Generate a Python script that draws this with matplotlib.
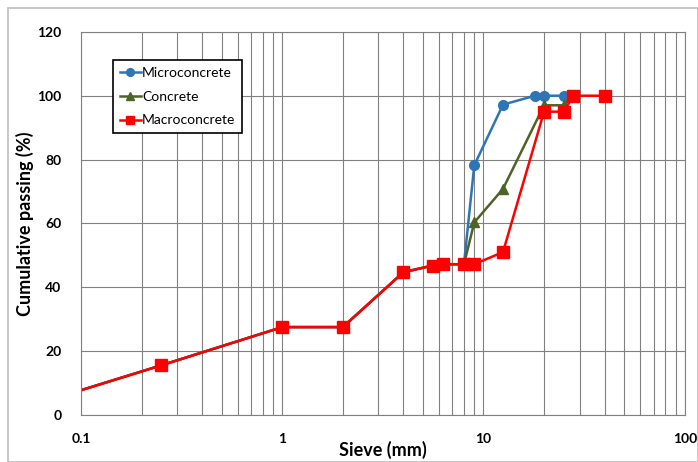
import matplotlib.pyplot as plt
from matplotlib.patches import Rectangle
from matplotlib.ticker import FixedLocator, LogLocator, NullFormatter

plt.rcParams['font.family'] = ['Lato', 'DejaVu Sans']

# Sieve sizes (mm) and cumulative passing (%)
macro_x = [0.063, 0.25, 1, 2, 4, 5.6, 6.3, 8, 9, 12.5, 20, 25, 28, 40]
macro_y = [3.8, 15.5, 27.5, 27.5, 44.7, 46.8, 47.2, 47.2, 47.2, 51, 95, 95, 100, 100]

concrete_x = [0.063, 0.25, 1, 2, 4, 5.6, 6.3, 8, 9, 12.5, 20, 25, 28]
concrete_y = [3.8, 15.5, 27.5, 27.5, 44.7, 46.8, 47.2, 47.2, 60.3, 70.8, 97, 97, 100]

micro_x = [0.063, 0.25, 1, 2, 4, 5.6, 6.3, 8, 9, 12.5, 18, 20, 25]
micro_y = [3.8, 15.5, 27.5, 27.5, 44.7, 46.8, 47.2, 47.2, 78.2, 97.2, 100, 100, 100]

fig = plt.figure(figsize=(6.98, 4.62), dpi=100)
ax = fig.add_axes([0.116, 0.102, 0.865, 0.829])

ax.plot(micro_x, micro_y, color='#2E75B6', marker='o', markersize=7, lw=1.8, label='Microconcrete')
ax.plot(concrete_x, concrete_y, color='#4F6228', marker='^', markersize=7, lw=1.8, label='Concrete')
ax.plot(macro_x, macro_y, color='#FF0000', marker='s', markersize=8, lw=1.8, label='Macroconcrete')

ax.set_xscale('log')
ax.set_xlim(0.1, 100)
ax.set_ylim(0, 120)
ax.xaxis.set_major_locator(FixedLocator([0.1, 1, 10, 100]))
ax.set_xticklabels(['0.1', '1', '10', '100'])
ax.xaxis.set_minor_locator(LogLocator(base=10, subs=range(2, 10)))
ax.xaxis.set_minor_formatter(NullFormatter())
ax.set_yticks(range(0, 121, 20))

ax.grid(True, which='both', axis='x', color='#808080', lw=0.8)
ax.grid(True, which='major', axis='y', color='#808080', lw=0.8)
ax.set_axisbelow(True)
ax.tick_params(which='both', length=0)
ax.tick_params(axis='x', pad=13)
ax.tick_params(axis='y', pad=14)
for lbl in ax.get_xticklabels() + ax.get_yticklabels():
    lbl.set_fontweight('bold')
    lbl.set_fontsize(10)
for s in ax.spines.values():
    s.set_color('#808080')
    s.set_linewidth(0.8)

ax.set_xlabel('Sieve (mm)', fontsize=13, fontweight='bold', labelpad=-3)
ax.set_ylabel('Cumulative passing (%)', fontsize=13, fontweight='bold', labelpad=2)

leg = ax.legend(loc='upper left', bbox_to_anchor=(0.053, 0.927), fancybox=False,
                framealpha=1, edgecolor='black', fontsize=10, handlelength=1.5,
                handletextpad=0.1, borderpad=0.5, labelspacing=0.85, borderaxespad=0,
                markerscale=0.8)
leg.get_frame().set_linewidth(1.2)

fig.patches.append(Rectangle((0.011, 0.0), 0.989, 0.982, transform=fig.transFigure,
                             fill=False, edgecolor='#bfbfbf', lw=1.2))

plt.savefig('out.png', dpi=100)
